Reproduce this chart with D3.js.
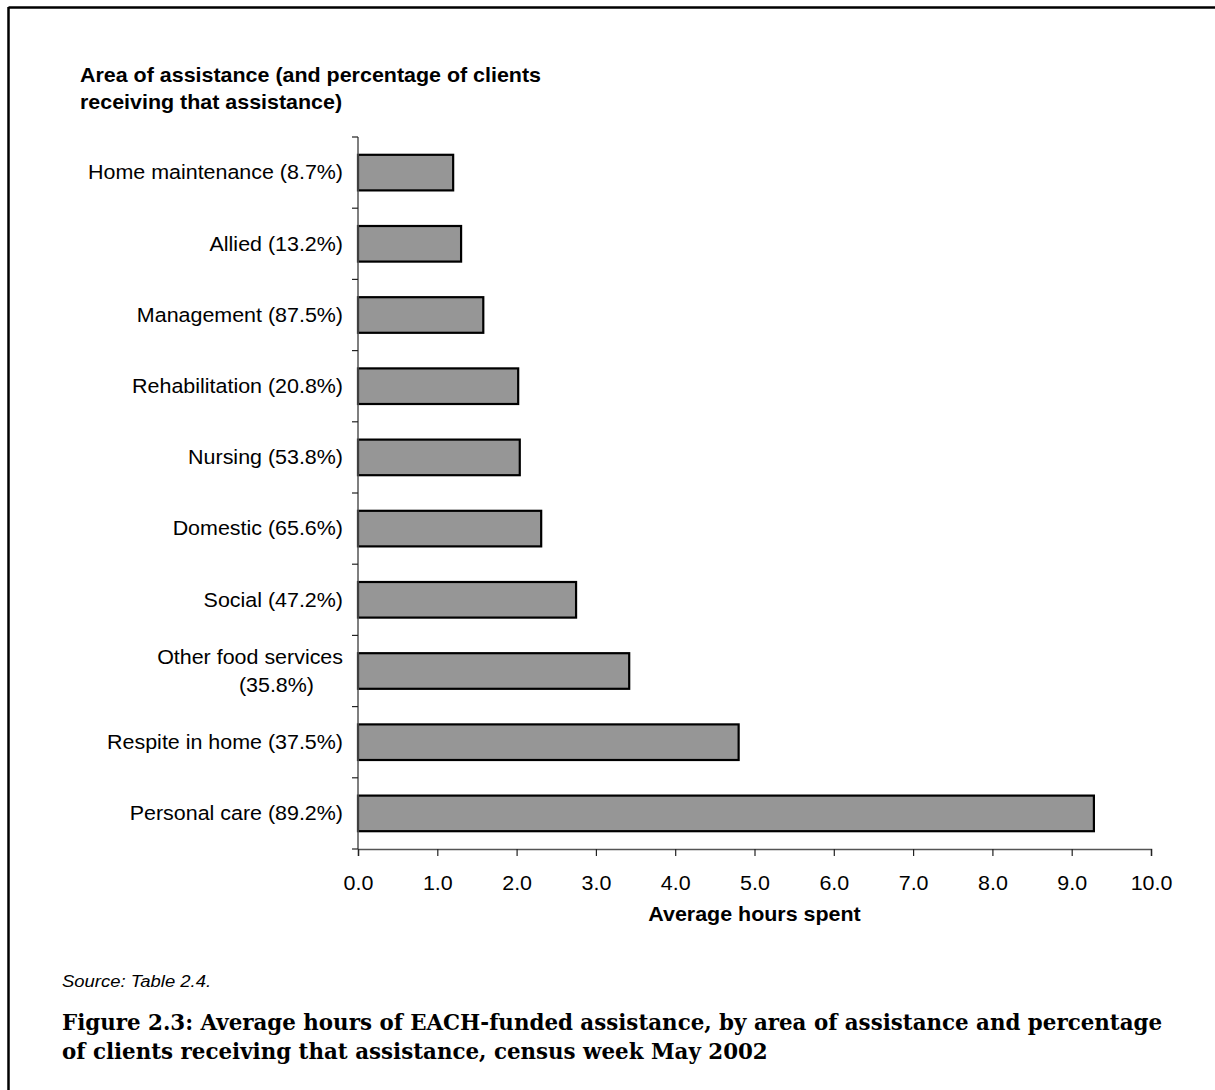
<!DOCTYPE html>
<html>
<head>
<meta charset="utf-8">
<script src="https://cdn.jsdelivr.net/npm/d3@7/dist/d3.min.js"></script>
<style>
  html, body { margin: 0; padding: 0; background: #fff; }
  svg { display: block; }
</style>
</head>
<body>
<svg id="chart" width="1215" height="1090"></svg>
<script>
// Areas of assistance, top to bottom as drawn
const categories = [
  "Home maintenance (8.7%)",
  "Allied (13.2%)",
  "Management (87.5%)",
  "Rehabilitation (20.8%)",
  "Nursing (53.8%)",
  "Domestic (65.6%)",
  "Social (47.2%)",
  "Other food services|(35.8%)",
  "Respite in home (37.5%)",
  "Personal care (89.2%)"
];
// Average hours spent per area
const hours = [1.2, 1.3, 1.58, 2.02, 2.04, 2.31, 2.75, 3.42, 4.8, 9.28];
const xTicks = [0, 1, 2, 3, 4, 5, 6, 7, 8, 9, 10];

const svg = d3.select("#chart");
const sans = "'Liberation Sans', Arial, sans-serif";
const serif = "'DejaVu Serif', 'Liberation Serif', serif";
const SX = 1.1;         // horizontal stretch of the lettering
const fs = 19.5;        // body font size

// Text helper: positioned by its anchor point, stretched horizontally
function addText(parent, x, y, str, o = {}) {
  return parent.append("text")
    .attr("transform", `translate(${x},${y}) scale(${o.sx || SX},1)`)
    .attr("text-anchor", o.anchor || "start")
    .attr("dy", o.dy || null)
    .attr("font-family", o.family || sans)
    .attr("font-size", o.size || fs)
    .attr("font-weight", o.weight || "normal")
    .attr("font-style", o.style || "normal")
    .attr("fill", "#000")
    .text(str);
}

// Frame lines along the top and left edge
svg.append("line").attr("x1", 8.5).attr("x2", 1215).attr("y1", 7.5).attr("y2", 7.5)
  .attr("stroke", "#000").attr("stroke-width", 2.5);
svg.append("line").attr("x1", 8.5).attr("x2", 8.5).attr("y1", 7).attr("y2", 1090)
  .attr("stroke", "#000").attr("stroke-width", 2.5);

const plotLeft = 358, plotRight = 1151, plotTop = 137, plotBottom = 849;

const x = d3.scaleLinear().domain([0, 10]).range([plotLeft, plotRight]);
const y = d3.scaleBand().domain(categories).range([plotTop, plotBottom]).paddingInner(0.5).paddingOuter(0.25);

// Bars
svg.append("g").selectAll("rect")
  .data(categories)
  .join("rect")
  .attr("x", x(0))
  .attr("y", d => y(d))
  .attr("width", (d, i) => x(hours[i]) - x(0))
  .attr("height", y.bandwidth())
  .attr("fill", "#969696")
  .attr("stroke", "#000")
  .attr("stroke-width", 2.2);

// Vertical axis with boundary ticks between categories
const axisColor = "#555";
svg.append("line").attr("x1", plotLeft).attr("x2", plotLeft).attr("y1", plotTop).attr("y2", plotBottom)
  .attr("stroke", axisColor).attr("stroke-width", 1.5);
const rowH = (plotBottom - plotTop) / categories.length;
svg.append("g").selectAll("line")
  .data(d3.range(categories.length + 1))
  .join("line")
  .attr("x1", plotLeft - 6).attr("x2", plotLeft)
  .attr("y1", i => plotTop + i * rowH)
  .attr("y2", i => plotTop + i * rowH)
  .attr("stroke", "#222").attr("stroke-width", 1.2);

// Horizontal axis
const xAxis = svg.append("g")
  .attr("transform", `translate(0,${plotBottom})`)
  .call(d3.axisBottom(x).tickValues(xTicks).tickSize(7).tickPadding(20).tickFormat(d3.format(".1f")));
xAxis.select(".domain").attr("stroke", axisColor).attr("stroke-width", 1.5);
xAxis.selectAll(".tick line").attr("stroke", "#222").attr("stroke-width", 1.2);
xAxis.selectAll(".tick text")
  .attr("font-family", sans).attr("font-size", fs).attr("fill", "#000")
  .attr("transform", `scale(${SX},1)`);

// Category labels
const labels = svg.append("g");
categories.forEach(c => {
  const parts = c.split("|");
  const cy = y(c) + y.bandwidth() / 2;
  if (parts.length === 1) {
    addText(labels, 343, cy, parts[0], { anchor: "end", dy: "0.35em" });
  } else {
    addText(labels, 343, cy - 14, parts[0], { anchor: "end", dy: "0.35em" });
    addText(labels, 314, cy + 14, parts[1], { anchor: "end", dy: "0.35em" });
  }
});

// Axis titles
addText(svg, 80, 82, "Area of assistance (and percentage of clients", { weight: "bold" });
addText(svg, 80, 109, "receiving that assistance)", { weight: "bold" });
addText(svg, (plotLeft + plotRight) / 2, 921, "Average hours spent", { weight: "bold", anchor: "middle" });

// Source note
addText(svg, 62, 987, "Source: Table 2.4.", { style: "italic", size: 16.8 });

// Figure caption, fitted to the text block width
const cap1 = addText(svg, 62, 1030,
  "Figure 2.3: Average hours of EACH-funded assistance, by area of assistance and percentage",
  { family: serif, weight: "bold", size: 23, sx: 1 });
const capScale = 1101 / cap1.node().getComputedTextLength();
cap1.attr("transform", `translate(62,1030) scale(${capScale},1)`);
addText(svg, 62, 1059, "of clients receiving that assistance, census week May 2002",
  { family: serif, weight: "bold", size: 23, sx: capScale });
</script>
</body>
</html>
